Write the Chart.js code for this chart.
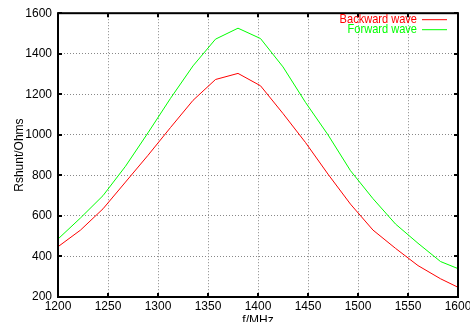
<!DOCTYPE html>
<html>
<head>
<meta charset="utf-8">
<script src="https://cdn.jsdelivr.net/npm/chart.js@4/dist/chart.umd.min.js"></script>
<style>
  html, body { margin: 0; padding: 0; background: #fff; }
  #wrap { width: 470px; height: 322px; }
</style>
</head>
<body>
<div id="wrap"><canvas id="shuntChart"></canvas></div>
<script>
// frequencies (MHz)
const freqs = [1200, 1222.5, 1245, 1267.5, 1290, 1312.5, 1335, 1357.5, 1380, 1402.5,
               1425, 1447.5, 1470, 1492.5, 1515, 1537.5, 1560, 1582.5, 1600];
// shunt resistance (Ohms)
const backwardWave = [448, 530, 635, 767, 899, 1036, 1170, 1273, 1303, 1242,
                      1105, 962, 806, 658, 530, 440, 355, 290, 248];
const forwardWave = [486, 590, 700, 845, 1010, 1180, 1340, 1472, 1526, 1475,
                     1335, 1160, 1000, 823, 685, 560, 465, 375, 340];
const xTicks = [1200, 1250, 1300, 1350, 1400, 1450, 1500, 1550, 1600];
const yTicks = [200, 400, 600, 800, 1000, 1200, 1400, 1600];

const FONT = "'Liberation Sans', Arial, sans-serif";

// gnuplot-like frame, inward ticks and legend
const gnuplotFrame = {
    id: 'gnuplotFrame',
    afterDraw(chart) {
        const { ctx, chartArea: a, scales } = chart;
        ctx.save();
        ctx.strokeStyle = '#000';
        ctx.lineWidth = 2;
        ctx.strokeRect(a.left, a.top, a.right - a.left, a.bottom - a.top);
        const len = 4;
        ctx.beginPath();
        xTicks.forEach(v => {
            const x = Math.round(scales.x.getPixelForValue(v));
            ctx.moveTo(x, a.bottom); ctx.lineTo(x, a.bottom - len);
            ctx.moveTo(x, a.top); ctx.lineTo(x, a.top + len);
        });
        yTicks.forEach(v => {
            const y = Math.round(scales.y.getPixelForValue(v));
            ctx.moveTo(a.left, y); ctx.lineTo(a.left + len, y);
            ctx.moveTo(a.right, y); ctx.lineTo(a.right - len, y);
        });
        ctx.stroke();

        // legend: narrow label text right aligned, then a short line sample
        ctx.lineWidth = 1;
        chart.data.datasets.forEach((ds, i) => {
            const y = a.top + 6 + i * 10;
            ctx.save();
            ctx.translate(a.right - 41, y);
            ctx.scale(0.85, 1);
            ctx.font = '13px ' + FONT;
            ctx.textAlign = 'right';
            ctx.textBaseline = 'middle';
            ctx.fillStyle = ds.borderColor;
            ctx.fillText(ds.label, 0, 0);
            ctx.restore();
            ctx.strokeStyle = ds.borderColor;
            ctx.beginPath();
            ctx.moveTo(a.right - 36, y + 0.5);
            ctx.lineTo(a.right - 11, y + 0.5);
            ctx.stroke();
        });
        ctx.restore();
    }
};

const ctx = document.getElementById('shuntChart').getContext('2d');

new Chart(ctx, {
    type: 'line',
    data: {
        datasets: [
            {
                label: 'Backward wave',
                data: freqs.map((f, i) => ({ x: f, y: backwardWave[i] })),
                borderColor: '#ff0000',
                borderWidth: 1,
                pointRadius: 0,
                tension: 0,
                fill: false
            },
            {
                label: 'Forward wave',
                data: freqs.map((f, i) => ({ x: f, y: forwardWave[i] })),
                borderColor: '#00ff00',
                borderWidth: 1,
                pointRadius: 0,
                tension: 0,
                fill: false
            }
        ]
    },
    options: {
        responsive: true,
        maintainAspectRatio: false,
        animation: false,
        layout: { padding: { top: 13, right: 12, left: 0, bottom: 0 } },
        plugins: {
            legend: { display: false },
            tooltip: { enabled: false }
        },
        scales: {
            x: {
                type: 'linear',
                min: 1200,
                max: 1600,
                afterBuildTicks: s => { s.ticks = xTicks.map(v => ({ value: v })); },
                afterFit: s => { s.height = 25; s.paddingLeft = 0; s.paddingRight = 0; },
                ticks: {
                    color: '#000',
                    padding: 2,
                    maxRotation: 0,
                    callback: v => String(v),
                    font: { family: FONT, size: 12 }
                },
                grid: { color: '#888', drawTicks: false },
                border: { display: false, dash: [1, 2] },
                title: {
                    display: true,
                    text: 'f/MHz',
                    color: '#000',
                    padding: { top: 0, bottom: -6 },
                    font: { family: FONT, size: 12 }
                }
            },
            y: {
                min: 200,
                max: 1600,
                afterBuildTicks: s => { s.ticks = yTicks.map(v => ({ value: v })); },
                afterFit: s => { s.width = 58; },
                ticks: {
                    color: '#000',
                    padding: 6,
                    callback: v => String(v),
                    font: { family: FONT, size: 12 }
                },
                grid: { color: '#888', drawTicks: false },
                border: { display: false, dash: [1, 2] },
                title: {
                    display: true,
                    text: 'Rshunt/Ohms',
                    color: '#000',
                    padding: { top: 12, bottom: 0 },
                    font: { family: FONT, size: 12 }
                }
            }
        }
    },
    plugins: [gnuplotFrame]
});
</script>
</body>
</html>
